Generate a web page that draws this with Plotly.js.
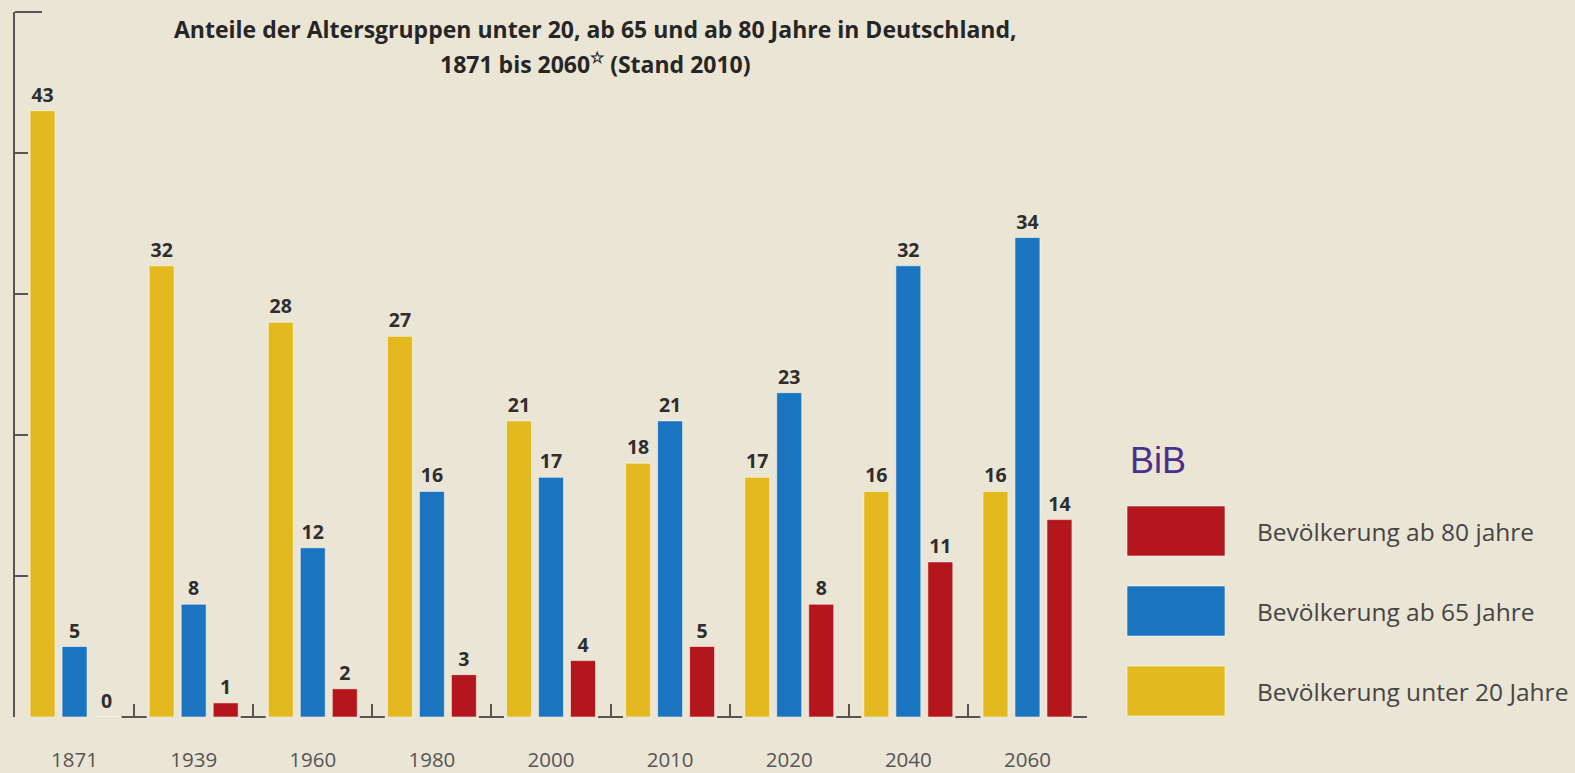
<!DOCTYPE html>
<html>
<head>
<meta charset="utf-8">
<script src="https://cdn.plot.ly/plotly-3.0.1.min.js"></script>
<style>
  html, body { margin: 0; padding: 0; background: #ebe5d5; }
  #chart { width: 1575px; height: 773px; }
</style>
</head>
<body>
<div id="chart"></div>
<script>
// ---- data ----
const years = ["1871", "1939", "1960", "1980", "2000", "2010", "2020", "2040", "2060"];
const under20 = [43, 32, 28, 27, 21, 18, 17, 16, 16];
const ab65 = [5, 8, 12, 16, 17, 21, 23, 32, 34];
const ab80 = [0, 1, 2, 3, 4, 5, 8, 11, 14];
const seriesNames = ["Bevölkerung unter 20 Jahre", "Bevölkerung ab 65 Jahre", "Bevölkerung ab 80 jahre"];
const titleLine1 = "Anteile der Altersgruppen unter 20, ab 65 und ab 80 Jahre in Deutschland,";
const titleLine2 = "1871 bis 2060<sup>☆</sup> (Stand 2010)";
const brand = "BiB";

// ---- styles ----
const colors = ["#e4b91f", "#1a74bf", "#b3161d"];
const bg = "#ebe5d5";
const axisColor = "#555555";
const FONT = "'Open Sans', 'Noto Sans', sans-serif";
const W = 1575, H = 773;
const margin = { l: 15, r: 488, t: 12, b: 56 };
const plotW = W - margin.l - margin.r;
const plotH = H - margin.t - margin.b;
const px2x = p => (p - margin.l) / plotW;
const px2y = p => (H - margin.b - p) / plotH;

const seriesValues = [under20, ab65, ab80];
const traces = seriesValues.map((vals, i) => ({
  type: "bar",
  name: seriesNames[i],
  x: years,
  y: vals,
  text: vals.map(String),
  textposition: "outside",
  constraintext: "none",
  cliponaxis: false,
  textfont: { family: FONT, size: 19.5, color: "#2e2e2e", weight: 700 },
  marker: { color: colors[i], line: { color: "rgba(255,255,245,0.55)", width: 1 } },
  hovertemplate: "%{x}: %{y}<extra>" + seriesNames[i] + "</extra>",
  showlegend: false
}));

// axis decorations: horizontal feet of the boundary ticks
const shapes = [];
const half = 12.5 / (plotW / years.length);
for (let i = 0; i < years.length - 1; i++) {
  shapes.push({ type: "line", xref: "x", yref: "paper", x0: i + 0.5 - half, x1: i + 0.5 + half, y0: 0, y1: 0,
    line: { color: axisColor, width: 2 } });
}
shapes.push({ type: "line", xref: "x", yref: "paper", x0: years.length - 0.5 - half * 1.1, x1: years.length - 0.5, y0: 0, y1: 0,
  line: { color: axisColor, width: 2 } });
// top cap of the y axis
shapes.push({ type: "line", xref: "paper", yref: "paper", x0: 0, x1: px2x(42), y0: 1, y1: 1,
  line: { color: axisColor, width: 2 } });

// custom legend (large swatches)
const legendTop = [506, 586, 666];
const annotations = [];
[2, 1, 0].forEach((si, k) => {
  const y0 = legendTop[k];
  shapes.push({ type: "rect", xref: "paper", yref: "paper",
    x0: px2x(1127), x1: px2x(1225), y0: px2y(y0 + 50), y1: px2y(y0),
    fillcolor: colors[si], line: { color: "rgba(255,255,245,0.55)", width: 1 } });
  annotations.push({ xref: "paper", yref: "paper", x: px2x(1255), y: px2y(y0 + 25),
    xanchor: "left", yanchor: "middle", showarrow: false, text: seriesNames[si],
    font: { family: FONT, size: 24.5, color: "#454545" } });
});
annotations.push({ xref: "paper", yref: "paper", x: px2x(1128), y: px2y(461),
  xanchor: "left", yanchor: "middle", showarrow: false, text: brand,
  font: { family: "'Liberation Sans', Arial, sans-serif", size: 36, color: "#4b2f8c" } });
// title lines
annotations.push({ xref: "paper", yref: "paper", x: px2x(595), y: px2y(29),
  xanchor: "center", yanchor: "middle", showarrow: false, text: titleLine1,
  font: { family: FONT, size: 23, color: "#262626", weight: 700 } });
annotations.push({ xref: "paper", yref: "paper", x: px2x(595), y: px2y(63),
  xanchor: "center", yanchor: "middle", showarrow: false, text: titleLine2,
  font: { family: FONT, size: 23, color: "#262626", weight: 700 } });

const layout = {
  width: W, height: H,
  margin: margin,
  paper_bgcolor: bg, plot_bgcolor: bg,
  barmode: "group",
  bargap: 0.194,
  bargroupgap: 0.22,
  showlegend: false,
  xaxis: {
    type: "category",
    range: [-0.5, years.length - 0.5],
    showline: false, showgrid: false, zeroline: false,
    ticks: "inside", tickson: "boundaries", ticklen: 13, tickwidth: 2, tickcolor: axisColor,
    tickfont: { family: FONT, size: 20.5, color: "#555555" },
    ticklabelstandoff: 28
  },
  yaxis: {
    range: [0, 50],
    showline: true, linecolor: axisColor, linewidth: 2,
    showgrid: false, zeroline: false,
    ticks: "inside", tickmode: "linear", tick0: 0, dtick: 10, ticklen: 13, tickwidth: 2, tickcolor: axisColor,
    showticklabels: false
  },
  shapes: shapes,
  annotations: annotations
};

Plotly.newPlot("chart", traces, layout, { displayModeBar: false });
</script>
</body>
</html>
